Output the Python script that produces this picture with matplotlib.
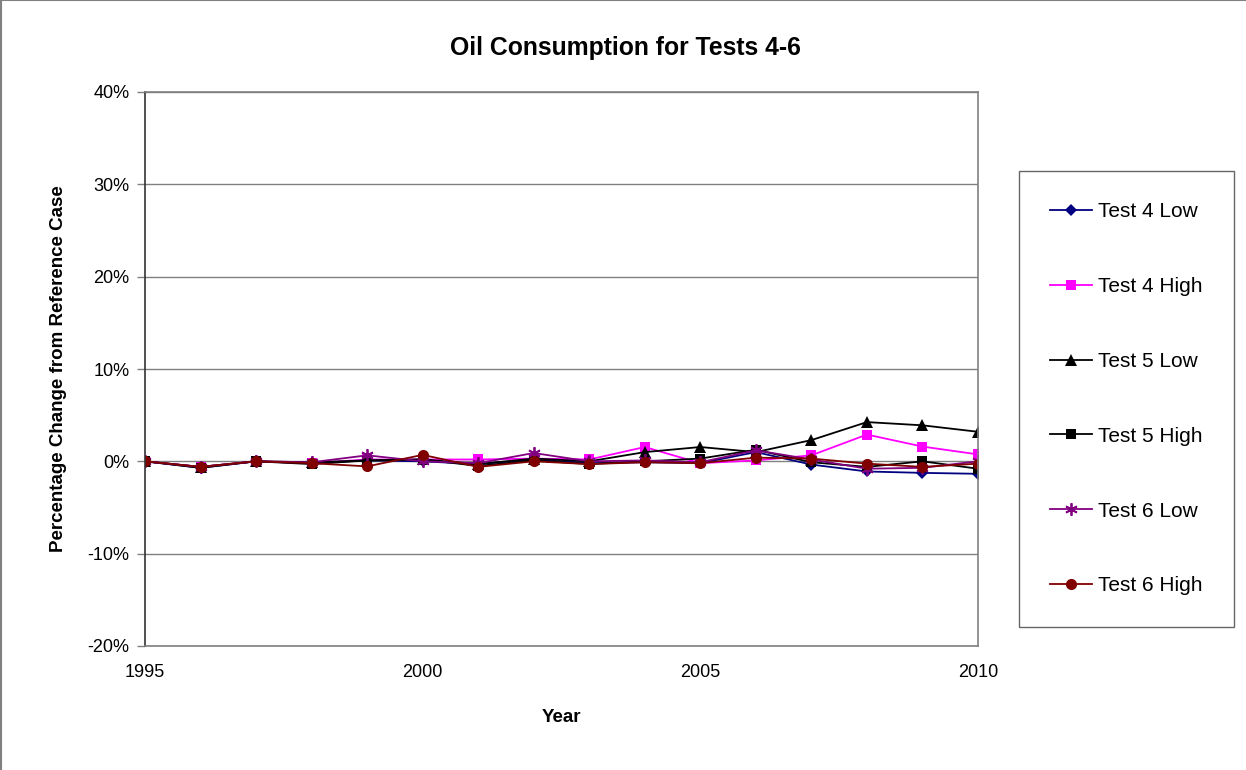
import matplotlib
matplotlib.use("Agg")
import matplotlib.pyplot as plt
from matplotlib.ticker import FuncFormatter

plt.rcParams['font.family'] = ['Liberation Sans', 'DejaVu Sans']

years = list(range(1995, 2011))

test4_low = [0, -0.7, 0, -0.2, 0.1, 0.0, -0.3, 0.2, -0.2, -0.1, -0.2, 1.0, -0.35, -1.1, -1.25, -1.35]
test4_high = [0, -0.6, 0, -0.2, 0.2, 0.2, 0.2, 0.3, 0.2, 1.55, -0.2, 0.1, 0.65, 2.9, 1.6, 0.75]
test5_low = [0, -0.6, 0, -0.1, 0.1, 0.2, -0.3, 0.3, 0.0, 1.0, 1.55, 1.0, 2.3, 4.25, 3.9, 3.2]
test5_high = [0, -0.7, 0, -0.3, 0.1, 0.2, -0.5, 0.1, -0.3, 0.0, 0.3, 1.25, -0.1, -0.6, 0.0, -0.8]
test6_low = [0, -0.6, 0, -0.1, 0.65, 0.0, -0.2, 0.9, 0.0, 0.1, -0.1, 1.2, 0.2, -0.8, -0.7, 0.0]
test6_high = [0, -0.6, 0, -0.2, -0.55, 0.7, -0.6, 0.0, -0.3, -0.1, -0.2, 0.4, 0.3, -0.25, -0.6, -0.25]

series = [
    ("Test 4 Low", test4_low, "#000080", "D", 6),
    ("Test 4 High", test4_high, "#FF00FF", "s", 7),
    ("Test 5 Low", test5_low, "#000000", "^", 8),
    ("Test 5 High", test5_high, "#000000", "s", 7),
    ("Test 6 Low", test6_low, "#800080", (6, 2, 0), 9),
    ("Test 6 High", test6_high, "#800000", "o", 8),
]

fig = plt.figure(figsize=(12.46, 7.70), dpi=100)
ax = fig.add_axes([145 / 1246, 1 - 646 / 770, (978 - 145) / 1246, (646 - 92) / 770])

for name, vals, col, mk, ms in series:
    mew = 1.3 if mk == (6, 2, 0) else 0
    ax.plot(years, vals, color=col, marker=mk, markersize=ms, linewidth=1.3,
            markeredgewidth=mew, markeredgecolor=col, label=name)

ax.set_xlim(1995, 2010)
ax.set_ylim(-20, 40)
ax.set_xticks([1995, 2000, 2005, 2010])
ax.set_yticks(range(-20, 41, 10))
ax.yaxis.set_major_formatter(FuncFormatter(lambda v, p: f"{int(v)}%"))
ax.grid(axis='y', color='#808080', linewidth=1)
ax.set_axisbelow(True)
ax.tick_params(axis='x', length=0, pad=13, labelsize=13)
ax.tick_params(axis='y', length=6, width=1, color='#808080', pad=5, labelsize=13)

for s in ['top', 'right', 'bottom']:
    ax.spines[s].set_color('#808080')
    ax.spines[s].set_linewidth(1.2)
ax.spines['left'].set_color('#333333')
ax.spines['left'].set_linewidth(1.2)

ax.set_xlabel("Year", fontsize=13.5, fontweight='bold', labelpad=20)
ax.set_ylabel("Percentage Change from Reference Case", fontsize=13.5, fontweight='bold', labelpad=15)
fig.text(0.502, 1 - 48 / 770, "Oil Consumption for Tests 4-6", fontsize=17.8,
         fontweight='bold', ha='center', va='center')

leg = fig.legend(loc='upper left', bbox_to_anchor=(1019 / 1246, 1 - 171 / 770),
                 frameon=True, fancybox=False, edgecolor='#404040', fontsize=15,
                 labelspacing=2.68, borderpad=1.5, handlelength=2.0, handletextpad=0.3,
                 borderaxespad=0)
leg.get_frame().set_linewidth(1)

# outer chart border
fig.add_artist(plt.Line2D([0, 1], [0.9995, 0.9995], color='#808080', linewidth=1.5))
fig.add_artist(plt.Line2D([0.0008, 0.0008], [0, 1], color='#808080', linewidth=1.5))

fig.savefig("out.png", dpi=100)
